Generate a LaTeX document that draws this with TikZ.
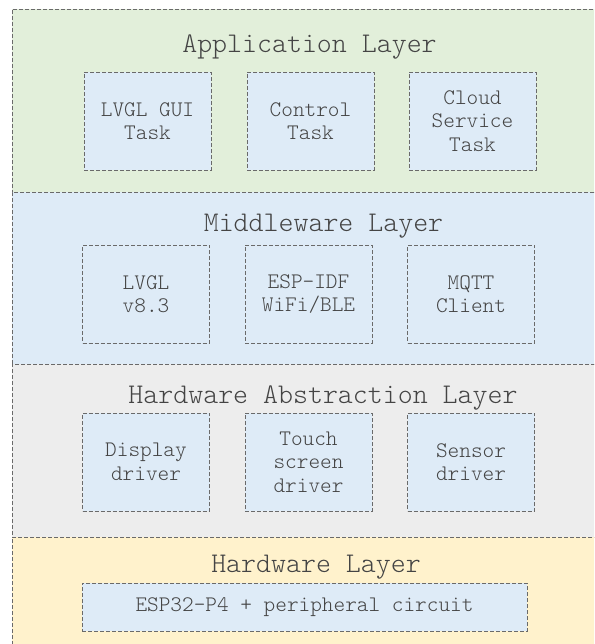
\documentclass[tikz,border=0pt]{standalone}
\usetikzlibrary{positioning}
\definecolor{appgreen}{HTML}{E2EFDA}
\definecolor{midblue}{HTML}{DEEBF7}
\definecolor{halgray}{HTML}{EDEDED}
\definecolor{hwyellow}{HTML}{FFF2CC}
\definecolor{edgegray}{HTML}{6A6A6A}
\definecolor{ink}{HTML}{444444}
\newcommand{\monolight}{\ttfamily\fontseries{l}\selectfont}
\tikzset{
  layer/.style={rectangle,draw=edgegray,line width=.9pt,dash pattern=on 4pt off 2pt,
    minimum width=598pt,inner sep=0pt,outer sep=0pt},
  layertitle/.style={font=\monolight\fontsize{28.5}{32}\selectfont,text=ink,anchor=base},
  module/.style={rectangle,draw=edgegray,line width=.9pt,dash pattern=on 4pt off 2pt,
    fill=midblue,minimum width=127pt,minimum height=98pt,inner sep=2pt,align=center,
    text=ink,font=\monolight\fontsize{22.2}{23.5}\selectfont},
}
\begin{document}
\begin{tikzpicture}[x=1pt,y=-1pt]
\path[use as bounding box] (0,0) rectangle (594,644);
\clip (0,0) rectangle (594,644);
% the four layers, top to bottom
\node[layer,fill=appgreen,minimum height=183pt] (app) at (311,100.5) {};
\node[layer,fill=midblue,minimum height=172pt] (mid) at (311,278) {};
\node[layer,fill=halgray,minimum height=173pt] (hal) at (311,450.5) {};
\node[layer,fill=hwyellow,minimum height=140pt] (hw) at (311,607) {};
% application layer
\node[layertitle] (apptitle) at (309.5,53) {Application Layer};
\node[module] (gui) at (147.5,121) {LVGL GUI\\Task};
\node[module] (ctrl) at (310.5,121) {Control\\Task};
\node[module] (cloud) at (472.5,121) {Cloud\\Service\\Task};
% middleware layer
\node[layertitle] (midtitle) at (323.5,231) {Middleware Layer};
\node[module] (lvgl) at (146,294) {LVGL\\v8.3};
\node[module] (idf) at (308.5,294) {ESP-IDF\\WiFi/BLE};
\node[module] (mqtt) at (471,294) {MQTT\\Client};
% hardware abstraction layer
\node[layertitle] (haltitle) at (323,403) {Hardware Abstraction Layer};
\node[module] (disp) at (146,462) {Display\\driver};
\node[module] (touch) at (308.5,462) {Touch\\screen\\driver};
\node[module] (sens) at (471,462) {Sensor\\driver};
% hardware layer
\node[layertitle] (hwtitle) at (316,572) {Hardware Layer};
\node[module,minimum width=445pt,minimum height=48pt] (chip) at (304.5,607) {ESP32-P4 + peripheral circuit};
\end{tikzpicture}
\end{document}
